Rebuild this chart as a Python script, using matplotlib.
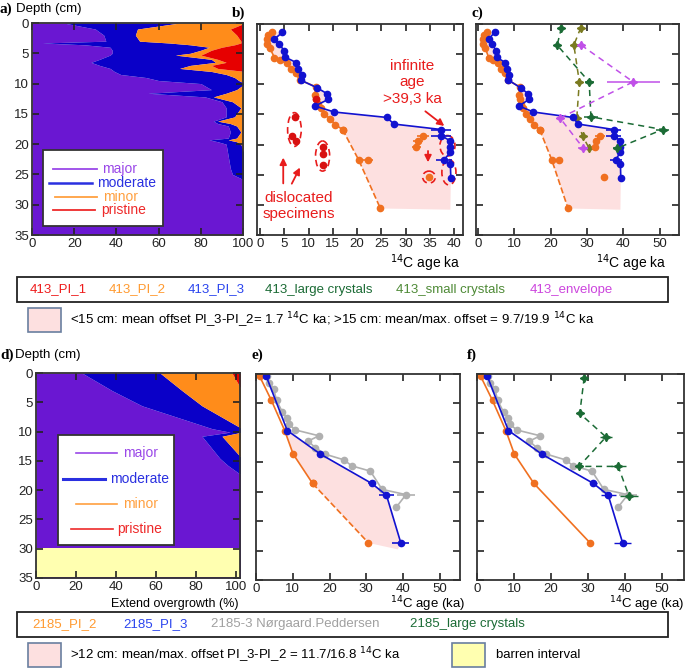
import numpy as np
import matplotlib.pyplot as plt
from matplotlib.patches import Polygon, Ellipse, Rectangle

plt.rcParams['font.family'] = ['Liberation Sans', 'DejaVu Sans']

# ---- colours
MAJOR, MODERATE, MINOR, PRISTINE = '#6a17d2', '#0a00c8', '#ff8c1a', '#e60000'
ORANGE, BLUE, RED, GRAY = '#f07020', '#1212d0', '#e81c1c', '#b0b0b0'
LGREEN, SGREEN, ENVEL = '#1b6b35', '#7a7a20', '#c050e8'
PINK, YELLOW = '#fde0e0', '#ffffb0'

# ---- a) core 413 overgrowth classes (% per depth)
depth_a = [0, 1, 2, 3, 3.3, 3.6, 4, 4.5, 5, 5.3, 6, 6.5, 7, 7.5, 8, 8.5, 9, 9.5, 10,
           11, 11.6, 12.2, 13, 14, 15.5, 16.2, 16.6, 17, 18, 19, 19.3, 19.6, 20, 22,
           24, 25, 26, 35]
major_a = [15, 30, 34, 35, 5, 25, 37, 38, 38, 37, 32, 28, 32, 37, 39, 42, 54, 60, 80,
           85, 55, 82, 90, 92, 92, 86, 88, 93, 94, 93, 84, 88, 92, 93,
           94, 95, 100, 100]
moderate_a = [55, 20, 15, 16, 60, 50, 47, 42, 37, 31, 53, 59, 43, 33, 46, 50, 42, 38, 20,
              12, 37, 4, 5, 7, 4, 2, 6, 4, 5, 4, 9, 9, 7, 7,
              6, 5, 0, 0]
minor_a = [30, 44, 48, 48, 34, 21, 6, 5, 7, 12, 3, 5, 10, 18, 15, 8, 4, 2, 0,
           3, 8, 14, 5, 1, 4, 12, 6, 3, 1, 3, 7, 3, 1, 0,
           0, 0, 0, 0]
pristine_a = [0, 6, 3, 1, 1, 4, 10, 15, 18, 20, 12, 8, 15, 12, 0, 0, 0, 0, 0,
              0, 0, 0, 0, 0, 0, 0, 0, 0, 0, 0, 0, 0, 0, 0,
              0, 0, 0, 0]

# ---- d) core 2185 overgrowth classes
depth_d = [0, 3, 5.6, 9.5, 10.1, 10.8, 14.6, 15.8, 17.5, 35]
major_d = [23, 38, 53, 88, 97, 83, 92, 96, 100, 100]
moderate_d = [39, 35, 30, 12, 3, 10, 8, 4, 0, 0]
minor_d = [36, 27, 17, 0, 0, 7, 0, 0, 0, 0]
pristine_d = [2, 0, 0, 0, 0, 0, 0, 0, 0, 0]
barren_d = (29.8, 34.8)

# ---- b/c) core 413 radiocarbon ages (14C ka)
pi1_413_age = [7.3, 6.7, 7.5, 13.0, 12.9, 13.0, 11.6]
pi1_413_dep = [15.4, 18.5, 19.4, 20.4, 21.5, 23.4, 12.4]

pi2_413_age = [2.5, 1.7, 1.5, 1.5, 2.0, 3.0, 4.1, 5.5, 6.3, 7.5, 8.2, 8.2, 11.5, 11.3,
               11.5, 12.0, 12.5, 13.2, 14.4, 15.5, 17.0]
pi2_413_dep = [1.4, 1.9, 2.5, 3.3, 3.9, 5.6, 6.0, 6.5, 7.4, 8.2, 8.5, 9.3, 10.4, 11.7,
               12.5, 13.2, 14.0, 14.9, 15.7, 16.7, 17.5]
pi2_413_dash_age = [17.0, 20.3, 24.8]
pi2_413_dash_dep = [17.5, 22.5, 30.6]
pi2_413_loose_age = [22.2, 33.6, 32.6, 32.2, 34.8]
pi2_413_loose_dep = [22.5, 18.5, 19.4, 20.4, 25.4]
pi2_413_loose_err = [1.0, 1.3, 1.0, 1.0, 0.0]

pi3_413_age = [4.6, 3.0, 3.9, 5.0, 5.2, 7.5, 7.9, 8.6, 8.4, 11.8, 13.9, 14.1, 11.3, 15.3,
               26.1, 27.6, 37.3, 37.3, 39.2, 39.2, 39.2, 37.9, 39.2, 39.3]
pi3_413_dep = [1.4, 2.5, 3.3, 4.4, 5.5, 6.4, 7.5, 8.5, 9.3, 10.6, 11.6, 12.5, 13.6, 14.6,
               15.5, 16.6, 17.5, 18.5, 19.4, 20.4, 21.3, 22.5, 23.3, 25.6]
pi3_413_err = [0] * 16 + [2.0, 2.0, 0, 0, 0, 1.6, 0, 0]
env413_corner = [(39.2, 30.8)]

large_413_age = [23.0, 21.8, 30.6, 31.1, 50.8, 38.3]
large_413_dep = [0.6, 3.5, 9.6, 15.4, 17.5, 20.6]
large_413_err = [0, 0, 1.2, 2.0, 1.8, 1.2]
small_413_age = [28.3, 26.4, 27.9, 27.2, 28.8, 30.6]
small_413_dep = [0.6, 3.5, 9.6, 15.6, 18.6, 20.6]
envl_413_age = [28.4, 42.7, 22.6, 29.0]
envl_413_dep = [3.5, 9.6, 15.6, 20.6]
envl_413_err = [0.8, 7.3, 0.8, 1.4]

# ---- e/f) core 2185 radiocarbon ages
pi2_2185_age = [1.0, 4.2, 7.8, 10.1, 15.4, 30.6]
pi2_2185_dep = [0.4, 4.5, 9.6, 13.6, 18.6, 28.7]
pi3_2185_age = [2.8, 8.5, 17.5, 31.5, 35.5, 39.4]
pi3_2185_dep = [0.4, 9.6, 13.6, 18.6, 20.6, 28.7]
pi3_2185_err = [0, 0, 0, 1.0, 2.0, 2.3]
np_age = [3.0, 3.6, 4.8, 5.6, 7.2, 8.4, 8.9, 10.7, 17.1, 14.2, 16.1, 18.7, 24.0, 26.0,
          31.1, 34.3, 40.8, 38.2]
np_dep = [0.4, 1.6, 2.5, 4.5, 6.5, 7.5, 8.5, 9.5, 10.5, 11.4, 12.5, 13.6, 14.6, 15.6,
          16.5, 19.6, 20.5, 22.6]
np_err = [0] * 14 + [1.0, 1.0, 2.5, 0.6]
large_2185_age = [29.0, 27.8, 34.9, 27.6, 38.2, 41.1]
large_2185_dep = [0.6, 6.7, 10.7, 15.7, 15.7, 20.7]
large_2185_err = [0.6, 0.8, 1.5, 0, 2.0, 2.5]
env2185_corner = [(38.6, 29.8)]

W, H = 685, 670
fig = plt.figure(figsize=(W / 100, H / 100), dpi=100)


def box(x0, y0, x1, y1):
    return [x0 / W, 1 - y1 / H, (x1 - x0) / W, (y1 - y0) / H]


def style(ax, xlim, xticks, ylabels):
    ax.set_xlim(*xlim)
    ax.set_ylim(35, 0)
    ax.set_xticks(xticks)
    ax.set_yticks(range(0, 36, 5))
    ax.tick_params(direction='in', top=True, right=True, length=5, width=1.2,
                   labelsize=9.5, pad=2, colors='#222')
    if not ylabels:
        ax.set_yticklabels([])
    for s in ax.spines.values():
        s.set_linewidth(1.3)
        s.set_color('#333')


def stacked(ax, depth, classes, xmax):
    # cumulative classes; whatever reaches 100 % is run out to the frame
    cols = [MAJOR, MODERATE, MINOR, PRISTINE]
    lo = np.zeros(len(depth))
    for vals, c in zip(classes, cols):
        hi = lo + np.array(vals, dtype=float)
        hi[hi >= 99.99] = xmax
        ax.fill_betweenx(depth, lo, hi, color=c, lw=0)
        lo = hi


def class_legend(x0, y0, x1, y1, rows):
    # legend box drawn in figure pixels
    fig.patches.append(Rectangle((x0 / W, 1 - y1 / H), (x1 - x0) / W, (y1 - y0) / H,
                                 transform=fig.transFigure, fc='white', ec='#333',
                                 lw=1.3, zorder=5))
    for (lx0, lx1, ly, tx, label, lc, lw) in rows:
        fig.lines.append(plt.Line2D([lx0 / W, lx1 / W], [1 - ly / H, 1 - ly / H],
                                    transform=fig.transFigure, color=lc, lw=lw, zorder=6))
        fig.text(tx / W, 1 - ly / H, label, color=lc, fontsize=10, va='center',
                 zorder=7)


# ---------------- a
ax_a = fig.add_axes(box(32, 23, 243, 235))
stacked(ax_a, depth_a, [major_a, moderate_a, minor_a, pristine_a], 101)
style(ax_a, (0, 100), range(0, 101, 20), True)
class_legend(43, 150, 163, 226, [
    (53, 97, 169, 102, 'major', '#9a48e8', 1.3),
    (49, 92, 183, 97, 'moderate', '#2a30e0', 1.8),
    (55, 97, 197, 103, 'minor', '#ffa040', 1.3),
    (53, 95, 210, 101, 'pristine', '#ee2a2a', 1.3)])

# ---------------- d
ax_d = fig.add_axes(box(36, 373, 240, 578))
stacked(ax_d, depth_d, [major_d, moderate_d, minor_d, pristine_d], 103)
ax_d.axhspan(*barren_d, color=YELLOW, lw=0)
style(ax_d, (0, 102), range(0, 101, 20), True)
class_legend(58, 435, 174, 545, [
    (76, 117, 453, 123, 'major', '#9a48e8', 1.2),
    (63, 105, 479, 110, 'moderate', '#2a30e0', 2.2),
    (76, 117, 504, 123, 'minor', '#ffa040', 1.2),
    (71, 113, 529, 117, 'pristine', '#ee2a2a', 1.2)])


# ---------------- b, c
def envelope(ax, a2, d2, corner, a3, d3):
    pts = list(zip(a2, d2)) + corner + list(zip(a3, d3))[::-1]
    ax.add_patch(Polygon(pts, closed=True, fc=PINK, ec='none', zorder=0))


def core413(ax):
    envelope(ax, pi2_413_age + pi2_413_dash_age[1:], pi2_413_dep + pi2_413_dash_dep[1:],
             env413_corner, pi3_413_age, pi3_413_dep)
    ax.plot(pi2_413_dash_age, pi2_413_dash_dep, '--o', color=ORANGE, ms=4.5, lw=1.2)
    ax.plot(pi2_413_age, pi2_413_dep, '-o', color=ORANGE, ms=4.5, lw=1.2)
    ax.errorbar(pi2_413_loose_age, pi2_413_loose_dep, xerr=pi2_413_loose_err, fmt='o',
                color=ORANGE, ms=4.5, elinewidth=1.2, capsize=0)
    ax.errorbar(pi3_413_age, pi3_413_dep, xerr=pi3_413_err, fmt='-o', color=BLUE,
                ms=4.5, lw=1.2, elinewidth=1.2, capsize=0)


ax_b = fig.add_axes(box(257, 24, 463, 235))
core413(ax_b)
ax_b.plot(pi1_413_age, pi1_413_dep, 'o', color='#d81010', ms=4.5)
for (cx, cy, ew, eh) in [(7.1, 17.5, 2.8, 5.6), (12.9, 21.9, 2.9, 5.0),
                         (34.8, 25.4, 2.6, 2.0), (38.6, 20.2, 3.1, 3.4),
                         (38.9, 24.6, 2.9, 4.2)]:
    ax_b.add_patch(Ellipse((cx, cy), ew, eh, fill=False, ec=RED, lw=1.2, ls=(0, (4, 2.5))))
ax_b.text(31.3, 9.7, 'infinite\nage\n>39,3 ka', color=RED, fontsize=11, ha='center',
          va='center', linespacing=1.25)
ax_b.text(8.0, 30.2, 'dislocated\nspecimens', color=RED, fontsize=11, ha='center',
          va='center', linespacing=1.25)
arrow = dict(arrowstyle='-|>', color=RED, lw=1.3, mutation_scale=10)
ax_b.annotate('', xy=(38.4, 17.2), xytext=(33.6, 14.2), arrowprops=arrow)
ax_b.annotate('', xy=(34.6, 23.4), xytext=(34.6, 20.6), arrowprops=arrow)
ax_b.annotate('', xy=(4.8, 21.7), xytext=(4.8, 26.9), arrowprops=arrow)
ax_b.annotate('', xy=(8.5, 23.4), xytext=(6.3, 26.9), arrowprops=arrow)
style(ax_b, (-0.6, 41.8), range(0, 41, 5), False)

ax_c = fig.add_axes(box(476, 24, 679, 235))
core413(ax_c)
ax_c.errorbar(large_413_age, large_413_dep, xerr=large_413_err, fmt='--', marker=(4, 1, 0),
              color=LGREEN, ms=6, lw=1.1, elinewidth=1.1, capsize=0, dashes=(4, 3))
ax_c.plot(small_413_age, small_413_dep, '--', marker=(4, 1, 0), color=SGREEN, ms=6,
          lw=1.1, dashes=(4, 3))
ax_c.errorbar(envl_413_age, envl_413_dep, xerr=envl_413_err, fmt='--', marker=(4, 1, 0),
              color=ENVEL, ms=6, lw=1.1, elinewidth=1.1, capsize=0, dashes=(4, 3))
style(ax_c, (-0.5, 55.3), range(0, 51, 10), False)

# ---------------- e, f
ax_e = fig.add_axes(box(256, 374, 460, 580))
envelope(ax_e, pi2_2185_age[2:], pi2_2185_dep[2:], env2185_corner,
         pi3_2185_age[1:], pi3_2185_dep[1:])
ax_e.errorbar(np_age, np_dep, xerr=np_err, fmt='-o', color=GRAY, ms=4.5, lw=1.2,
              elinewidth=1.2, capsize=0)
ax_e.plot(pi2_2185_age[:-1], pi2_2185_dep[:-1], '-o', color=ORANGE, ms=4.5, lw=1.2)
ax_e.plot(pi2_2185_age[-2:], pi2_2185_dep[-2:], '--o', color=ORANGE, ms=4.5, lw=1.2)
ax_e.errorbar(pi3_2185_age, pi3_2185_dep, xerr=pi3_2185_err, fmt='-o', color=BLUE,
              ms=4.5, lw=1.2, elinewidth=1.2, capsize=0)
style(ax_e, (0, 55.5), range(0, 51, 10), False)

ax_f = fig.add_axes(box(477, 374, 684, 580))
ax_f.errorbar(np_age, np_dep, xerr=np_err, fmt='-o', color=GRAY, ms=4.5, lw=1.2,
              elinewidth=1.2, capsize=0)
ax_f.plot(pi2_2185_age, pi2_2185_dep, '-o', color=ORANGE, ms=4.5, lw=1.2)
ax_f.errorbar(pi3_2185_age, pi3_2185_dep, xerr=pi3_2185_err, fmt='-o', color=BLUE,
              ms=4.5, lw=1.2, elinewidth=1.0, capsize=0)
ax_f.errorbar(large_2185_age, large_2185_dep, xerr=large_2185_err, fmt='--',
              marker=(4, 1, 0), color=LGREEN, ms=6, lw=1.1, elinewidth=1.0, capsize=0,
              dashes=(4, 3))
style(ax_f, (0, 56), range(0, 51, 10), False)

# ---------------- labels
serif = dict(family='Liberation Serif', weight='bold', fontsize=11)
for lab, x, y in [('a)', 0, 9), ('b)', 232, 13), ('c)', 471, 13),
                  ('d)', 0, 355), ('e)', 251, 355), ('f)', 467, 355)]:
    fig.text(x / W, 1 - y / H, lab, va='center', **serif)
fig.text(16 / W, 1 - 9 / H, 'Depth (cm)', va='center', fontsize=9.5)
fig.text(15 / W, 1 - 355 / H, 'Depth (cm)', va='center', fontsize=9.5)
fig.text(460 / W, 1 - 263 / H, '$^{14}$C age ka', ha='right', va='center', fontsize=10)
fig.text(666 / W, 1 - 263 / H, '$^{14}$C age ka', ha='right', va='center', fontsize=10)
fig.text(175 / W, 1 - 604 / H, 'Extend overgrowth (%)', ha='center', va='center',
         fontsize=9)
fig.text(465 / W, 1 - 604 / H, '$^{14}$C age (ka)', ha='right', va='center', fontsize=9.5)
fig.text(684 / W, 1 - 604 / H, '$^{14}$C age (ka)', ha='right', va='center', fontsize=9.5)


def legend_box(y0, y1, items):
    fig.patches.append(Rectangle((17 / W, 1 - y1 / H), (668 - 17) / W, (y1 - y0) / H,
                                 transform=fig.transFigure, fc='white', ec='#222', lw=1.3))
    for x, label, c in items:
        fig.text(x / W, 1 - (y0 + y1) / 2 / H, label, color=c, fontsize=9.5, va='center')


def swatch(x0, y0, x1, y1, fc):
    fig.patches.append(Rectangle((x0 / W, 1 - y1 / H), (x1 - x0) / W, (y1 - y0) / H,
                                 transform=fig.transFigure, fc=fc, ec='#6a7fa0', lw=1.2))


legend_box(277, 302, [(30, '413_PI_1', '#ee1c1c'), (109, '413_PI_2', '#ff9a30'),
                      (188, '413_PI_3', '#2a44ee'), (265, '413_large crystals', LGREEN),
                      (396, '413_small crystals', '#4e8a36'), (530, '413_envelope', '#cc44dd')])
swatch(28, 308, 61, 332, PINK)
fig.text(70 / W, 1 - 320 / H,
         '<15 cm: mean offset PI_3-PI_2= 1.7 $^{14}$C ka; >15 cm: mean/max. offset = 9.7/19.9 $^{14}$C ka',
         fontsize=9.5, va='center')

legend_box(612, 637, [(32, '2185_PI_2', '#ff9a30'), (123, '2185_PI_3', '#2a44ee'),
                      (211, '2185-3 Nørgaard.Peddersen', '#a0a0a0'),
                      (410, '2185_large crystals', LGREEN)])
swatch(28, 643, 61, 667, PINK)
fig.text(70 / W, 1 - 655 / H,
         '>12 cm: mean/max. offset PI_3-PI_2 = 11.7/16.8 $^{14}$C ka', fontsize=9.5,
         va='center')
swatch(452, 643, 485, 667, YELLOW)
fig.text(496 / W, 1 - 655 / H, 'barren interval', fontsize=9.5, va='center')

fig.savefig('out.png', dpi=100)
